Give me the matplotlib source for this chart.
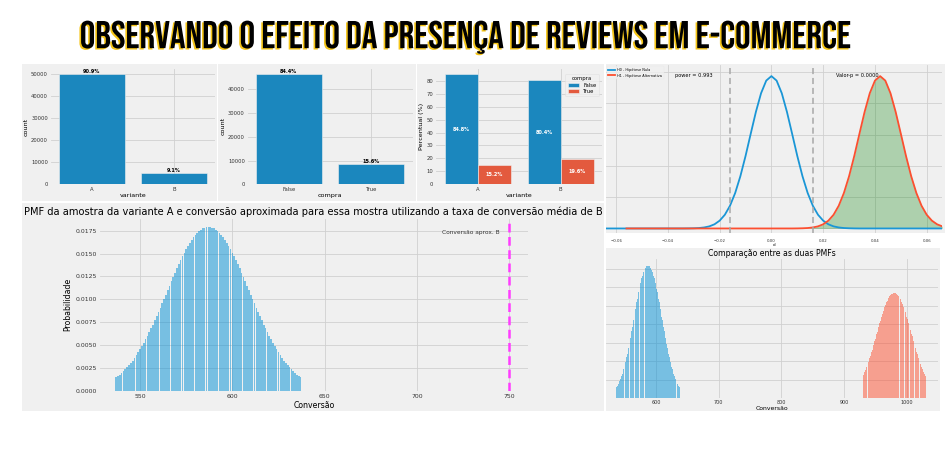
import numpy as np
import matplotlib
matplotlib.use("Agg")
import matplotlib.pyplot as plt
import matplotlib.patheffects as pe
from matplotlib import font_manager as fm
from matplotlib.patches import Rectangle

W, H = 947, 467
BG = "#f0f0f0"
GRID = "#d0d0d0"
AZUL = "#1b87be"
VERMELHO = "#e35a3e"
AZUL_LINHA = "#1a96d6"
VERMELHO_LINHA = "#fc4f30"

# ---- dados ----
variantes = ["A", "B"]
count_variante = [50000, 5000]
pct_variante = ["90.9%", "9.1%"]

compras = ["False", "True"]
count_compra = [46420, 8580]
pct_compra = ["84.4%", "15.6%"]

pct_false = [84.8, 80.4]
pct_true = [15.2, 19.6]

d_grid = [
    -0.064, -0.062, -0.060, -0.058, -0.056, -0.054, -0.052, -0.050, -0.048, -0.046,
    -0.044, -0.042, -0.040, -0.038, -0.036, -0.034, -0.032, -0.030, -0.028, -0.026,
    -0.024, -0.022, -0.020, -0.018, -0.016, -0.014, -0.012, -0.010, -0.008, -0.006,
    -0.004, -0.002, 0.000, 0.002, 0.004, 0.006, 0.008, 0.010, 0.012, 0.014,
    0.016, 0.018, 0.020, 0.022, 0.024, 0.026, 0.028, 0.030, 0.032, 0.034,
    0.036, 0.038, 0.040, 0.042, 0.044, 0.046, 0.048, 0.050, 0.052, 0.054,
    0.056, 0.058, 0.060, 0.062, 0.064, 0.066,
]
h0_densidade = [
    0, 0, 0, 0, 0, 0, 0, 0, 0, 0,
    0, 0, 0, 0, 0, 0, 0.02, 0.06, 0.14, 0.32,
    0.67, 1.33, 2.49, 4.37, 7.25, 11.33, 16.68, 23.13, 30.23, 37.22,
    43.19, 47.22, 48.65, 47.22, 43.19, 37.22, 30.23, 23.13, 16.68, 11.33,
    7.25, 4.37, 2.49, 1.33, 0.67, 0.32, 0.14, 0.06, 0.02, 0,
    0, 0, 0, 0, 0, 0, 0, 0, 0, 0,
    0, 0, 0, 0, 0, 0,
]
h1_densidade = [
    np.nan, np.nan, np.nan, np.nan, 0, 0, 0, 0, 0, 0,
    0, 0, 0, 0, 0, 0, 0, 0, 0, 0,
    0, 0, 0, 0, 0, 0, 0, 0, 0, 0,
    0, 0, 0, 0, 0, 0, 0, 0.02, 0.06, 0.14,
    0.32, 0.67, 1.33, 2.49, 4.37, 7.25, 11.33, 16.68, 23.13, 30.23,
    37.22, 43.19, 47.22, 48.65, 47.22, 43.19, 37.22, 30.23, 23.13, 16.68,
    11.33, 7.25, 4.37, 2.49, 1.33, 0.67,
]
d_critico = [-0.016, 0.016]
texto_power = "power = 0.993"
texto_pvalor = "Valor-p = 0.0000"

conv_a = list(range(537, 638))
pmf_a = [
    0.00145, 0.00160, 0.00177, 0.00194, 0.00213, 0.00234, 0.00256, 0.00279, 0.00304, 0.00330,
    0.00358, 0.00388, 0.00419, 0.00452, 0.00486, 0.00522, 0.00560, 0.00599, 0.00639, 0.00681,
    0.00724, 0.00768, 0.00814, 0.00860, 0.00907, 0.00955, 0.01003, 0.01052, 0.01100, 0.01149,
    0.01197, 0.01245, 0.01292, 0.01339, 0.01384, 0.01428, 0.01470, 0.01510, 0.01549, 0.01585,
    0.01619, 0.01650, 0.01678, 0.01704, 0.01726, 0.01746, 0.01761, 0.01774, 0.01783, 0.01788,
    0.01790,
    0.01788, 0.01783, 0.01774, 0.01761, 0.01746, 0.01726, 0.01704, 0.01678, 0.01650, 0.01619,
    0.01585, 0.01549, 0.01510, 0.01470, 0.01428, 0.01384, 0.01339, 0.01292, 0.01245, 0.01197,
    0.01149, 0.01100, 0.01052, 0.01003, 0.00955, 0.00907, 0.00860, 0.00814, 0.00768, 0.00724,
    0.00681, 0.00639, 0.00599, 0.00560, 0.00522, 0.00486, 0.00452, 0.00419, 0.00388, 0.00358,
    0.00330, 0.00304, 0.00279, 0.00256, 0.00234, 0.00213, 0.00194, 0.00177, 0.00160, 0.00145,
]
conv_b = list(range(930, 1031))
pmf_b = [
    0.00292, 0.00310, 0.00330, 0.00351, 0.00372, 0.00394, 0.00417, 0.00440, 0.00465, 0.00490,
    0.00515, 0.00542, 0.00569, 0.00597, 0.00625, 0.00654, 0.00683, 0.00712, 0.00742, 0.00773,
    0.00803, 0.00834, 0.00864, 0.00895, 0.00925, 0.00956, 0.00986, 0.01016, 0.01045, 0.01074,
    0.01102, 0.01130, 0.01157, 0.01182, 0.01207, 0.01231, 0.01254, 0.01276, 0.01296, 0.01315,
    0.01333, 0.01349, 0.01364, 0.01377, 0.01388, 0.01398, 0.01406, 0.01412, 0.01416, 0.01419,
    0.01420,
    0.01419, 0.01416, 0.01412, 0.01406, 0.01398, 0.01388, 0.01377, 0.01364, 0.01349, 0.01333,
    0.01315, 0.01296, 0.01276, 0.01254, 0.01231, 0.01207, 0.01182, 0.01157, 0.01130, 0.01102,
    0.01074, 0.01045, 0.01016, 0.00986, 0.00956, 0.00925, 0.00895, 0.00864, 0.00834, 0.00803,
    0.00773, 0.00742, 0.00712, 0.00683, 0.00654, 0.00625, 0.00597, 0.00569, 0.00542, 0.00515,
    0.00490, 0.00465, 0.00440, 0.00417, 0.00394, 0.00372, 0.00351, 0.00330, 0.00310, 0.00292,
]
conv_media_b = 750

plt.rcParams["font.family"] = ["DejaVu Sans"]
fig = plt.figure(figsize=(W / 100, H / 100), dpi=100, facecolor="white")


def px_box(x0, y0, x1, y1):
    # caixa em pixels (origem no topo) -> coordenadas da figura
    return [x0 / W, 1 - y1 / H, (x1 - x0) / W, (y1 - y0) / H]


def painel(x0, y0, x1, y1, cor=BG):
    fig.add_artist(Rectangle((x0 / W, 1 - y1 / H), (x1 - x0) / W, (y1 - y0) / H,
                             transform=fig.transFigure, facecolor=cor,
                             edgecolor="none", zorder=-10))


def estilo(ax, fs, pad=2):
    ax.set_facecolor(BG)
    for s in ax.spines.values():
        s.set_visible(False)
    ax.grid(True, color=GRID, lw=0.6)
    ax.set_axisbelow(True)
    ax.tick_params(length=0, labelsize=fs, colors="#333333", pad=pad)


def peso(w):
    if isinstance(w, (int, float)):
        return w
    return {"black": 900, "heavy": 900, "extra bold": 800, "bold": 700,
            "semibold": 600, "demibold": 600, "medium": 500}.get(str(w).lower(), 400)


def fonte_condensada():
    # a fonte do titulo original e uma grotesca bem estreita (tipo Bebas)
    ttf = fm.fontManager.ttflist
    for nome in ["Bebas Neue", "Oswald", "Anton", "League Gothic", "Roboto Condensed",
                 "Liberation Sans Narrow", "Open Sans Condensed"]:
        achou = [f for f in ttf if f.name == nome]
        if achou:
            achou.sort(key=lambda f: -peso(f.weight))
            return fm.FontProperties(fname=achou[0].fname)
    ordem = {"extra-condensed": 0, "condensed": 1, "ultra-condensed": 2, "semi-condensed": 3}
    cand = [f for f in ttf if str(f.stretch) in ordem and peso(f.weight) >= 600
            and "italic" not in str(f.style)]
    if cand:
        cand.sort(key=lambda f: (ordem[str(f.stretch)], -peso(f.weight)))
        return fm.FontProperties(fname=cand[0].fname)
    return fm.FontProperties(family="DejaVu Sans", weight="bold")


# fundos dos paineis
painel(22, 64, 216.5, 201)
painel(218, 64, 415.5, 201)
painel(417, 64, 604, 201)
painel(22, 203, 604, 411)
painel(605.5, 64, 945, 233)
painel(605.5, 248, 940, 411)

# 1) contagem por variante
ax1 = fig.add_axes(px_box(50.7, 68.7, 214.9, 184.3))
estilo(ax1, 3.8)
x = np.arange(len(variantes))
ax1.bar(x, count_variante, width=0.8, color=AZUL, edgecolor=BG, lw=0.4)
for i, v in enumerate(count_variante):
    ax1.text(x[i], v, pct_variante[i], ha="center", va="bottom", fontsize=3.6, fontweight="bold")
ax1.set_xticks(x, variantes)
ax1.set_xlim(-0.5, 1.5)
ax1.set_ylim(0, 52500)
ax1.set_yticks(range(0, 50001, 10000))
ax1.set_xlabel("variante", fontsize=4.6, labelpad=1)
ax1.set_ylabel("count", fontsize=4.6, labelpad=2)

# 2) contagem por compra
ax2 = fig.add_axes(px_box(247.6, 68.5, 412.6, 184.3))
estilo(ax2, 3.8)
x = np.arange(len(compras))
ax2.bar(x, count_compra, width=0.8, color=AZUL, edgecolor=BG, lw=0.4)
for i, v in enumerate(count_compra):
    ax2.text(x[i], v, pct_compra[i], ha="center", va="bottom", fontsize=3.6, fontweight="bold")
ax2.set_xticks(x, compras)
ax2.set_xlim(-0.5, 1.5)
ax2.set_ylim(0, 48741)
ax2.set_yticks(range(0, 40001, 10000))
ax2.set_xlabel("compra", fontsize=4.6, labelpad=1)
ax2.set_ylabel("count", fontsize=4.6, labelpad=2)

# 3) percentual de compra por variante
ax3 = fig.add_axes(px_box(436.2, 69, 602.2, 184.3))
estilo(ax3, 3.8)
x = np.arange(len(variantes))
ax3.bar(x - 0.2, pct_false, width=0.4, color=AZUL, edgecolor=BG, lw=0.4, label="False")
ax3.bar(x + 0.2, pct_true, width=0.4, color=VERMELHO, edgecolor=BG, lw=0.4, label="True")
for i in range(len(variantes)):
    ax3.text(x[i] - 0.2, pct_false[i] / 2, f"{pct_false[i]}%", ha="center", va="center",
             fontsize=3.6, fontweight="bold", color="white")
    ax3.text(x[i] + 0.2, pct_true[i] / 2, f"{pct_true[i]}%", ha="center", va="center",
             fontsize=3.6, fontweight="bold", color="white")
ax3.set_xticks(x, variantes)
ax3.set_xlim(-0.5, 1.5)
ax3.set_ylim(0, 89.04)
ax3.set_yticks(range(0, 81, 10))
ax3.set_xlabel("variante", fontsize=4.6, labelpad=1)
ax3.set_ylabel("Percentual (%)", fontsize=4.6, labelpad=2)
leg = ax3.legend(title="compra", loc="upper right", bbox_to_anchor=(0.995, 0.98), fontsize=3.8,
                 title_fontsize=3.8, frameon=True, facecolor=BG, edgecolor="#dddddd",
                 handlelength=2.2, handleheight=0.8, borderpad=0.4, labelspacing=0.3)
leg.get_frame().set_linewidth(0.4)

# 4) H0 x H1
ax4 = fig.add_axes(px_box(605.5, 65, 942, 233))
estilo(ax4, 2.8, pad=4)
d = np.array(d_grid)
h0 = np.array(h0_densidade, dtype=float)
h1 = np.array(h1_densidade, dtype=float)
ax4.fill_between(d, 0, h1, where=d >= d_critico[1], color="green", alpha=0.28, lw=0, interpolate=True)
ax4.plot(d, h0, color=AZUL_LINHA, lw=1.3, label="H0 - Hipótese Nula")
ax4.plot(d, h1, color=VERMELHO_LINHA, lw=1.3, label="H1 - Hipótese Alternativa")
for c in d_critico:
    ax4.axvline(c, color="#a8a8a8", ls=(0, (4, 2.5)), lw=1.1)
ax4.set_xlim(-0.0641, 0.0659)
ax4.set_ylim(-1.45, 52.2)
ax4.set_xticks([-0.06, -0.04, -0.02, 0.0, 0.02, 0.04, 0.06])
ax4.set_yticks(range(0, 51, 10))
ax4.set_yticklabels([])
ax4.set_xlabel("d", fontsize=3, labelpad=0.5)
leg4 = ax4.legend(loc="upper left", fontsize=2.5, frameon=True, facecolor=BG, edgecolor="#e6e6e6",
                  handlelength=2, handletextpad=0.6, borderpad=0.5, labelspacing=0.5,
                  borderaxespad=0.3)
leg4.get_frame().set_linewidth(0.3)
ax4.text(0.208, 0.94, texto_power, transform=ax4.transAxes, fontsize=3.6, va="center")
ax4.text(0.685, 0.94, texto_pvalor, transform=ax4.transAxes, fontsize=3.6, va="center")

# 5) PMF da variante A
ax5 = fig.add_axes(px_box(100, 218.8, 527.7, 390.7))
estilo(ax5, 4.4, pad=2.5)
ax5.bar(conv_a, pmf_a, width=0.9, color="#008fd5", alpha=0.5, lw=0)
ax5.axvline(conv_media_b, color="#ff3cff", ls=(0, (3.5, 1.8)), lw=1.8)
ax5.text(conv_media_b - 5, 0.01735, "Conversão aprox. B", ha="right", va="center", fontsize=4.2,
         color="#333333")
ax5.set_xlim(528.3, 760)
ax5.set_ylim(0, 0.0188)
ax5.set_xticks(range(550, 751, 50))
ax5.set_yticks(np.arange(0, 0.0176, 0.0025))
ax5.yaxis.set_major_formatter(matplotlib.ticker.FormatStrFormatter("%.4f"))
ax5.set_xlabel("Conversão", fontsize=5.6, labelpad=1)
ax5.set_ylabel("Probabilidade", fontsize=5.6, labelpad=2)
ax5.set_title("PMF da amostra da variante A e conversão aproximada para essa mostra "
              "utilizando a taxa de conversão média de B", fontsize=7.1, pad=2.5)

# 6) comparacao das duas PMFs
ax6 = fig.add_axes(px_box(606, 259, 938, 398))
estilo(ax6, 3.5, pad=1.5)
ax6.bar(conv_a, pmf_a, width=0.9, color="#008fd5", alpha=0.5, lw=0)
ax6.bar(conv_b, pmf_b, width=0.9, color="#fc4f30", alpha=0.5, lw=0)
ax6.set_xlim(520, 1050)
ax6.set_ylim(0, 0.0188)
ax6.set_xticks(range(600, 1001, 100))
ax6.set_yticks(np.arange(0, 0.0176, 0.0025))
ax6.set_yticklabels([])
ax6.set_xlabel("Conversão", fontsize=4.4, labelpad=1)
ax6.set_title("Comparação entre as duas PMFs", fontsize=5.6, pad=2)

# titulo principal
titulo = fig.text(465.5 / W, 1 - 37 / H, "OBSERVANDO O EFEITO DA PRESENÇA DE REVIEWS EM E-COMMERCE",
                  ha="center", va="center", fontproperties=fonte_condensada(), color="black",
                  path_effects=[pe.SimplePatchShadow(offset=(-1.2, -1.0), shadow_rgbFace="#f5c518", alpha=1),
                                pe.Normal()])
titulo.set_fontsize(30)
fig.canvas.draw()
largura = titulo.get_window_extent().width
titulo.set_fontsize(30 * 771 / largura)

fig.savefig("out.png", dpi=100, facecolor="white")
